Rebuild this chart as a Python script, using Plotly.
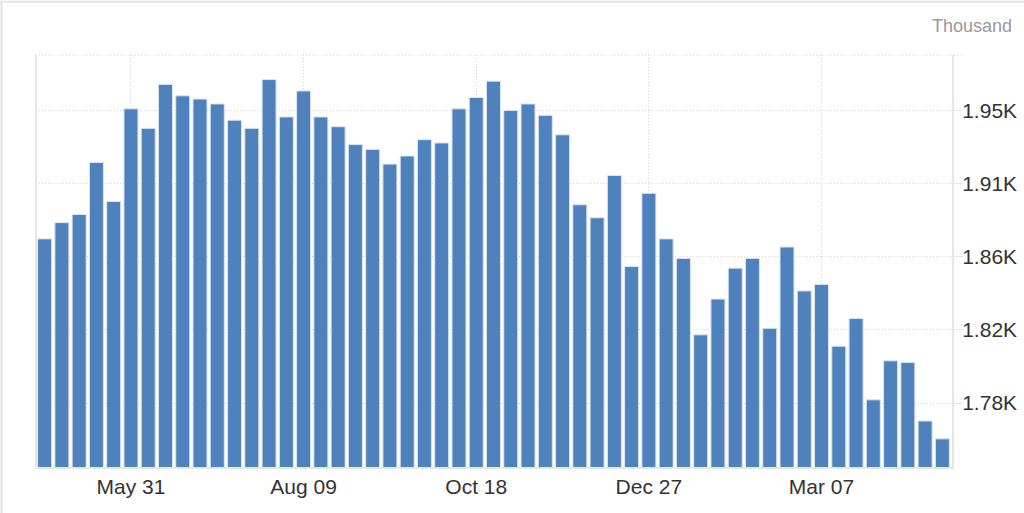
import pandas as pd
import plotly.graph_objects as go

# weekly continuing claims, thousands
weeks = pd.date_range("2025-04-26", periods=53, freq="7D")
claims = [
    1876, 1886, 1891, 1923, 1899, 1956, 1944, 1971, 1964, 1962,
    1959, 1949, 1944, 1974, 1951, 1967, 1951, 1945, 1934, 1931,
    1922, 1927, 1937, 1935, 1956, 1963, 1973, 1955, 1959, 1952,
    1940, 1897, 1889, 1915, 1859, 1904, 1876, 1864, 1817, 1839,
    1858, 1864, 1821, 1871, 1844, 1848, 1810, 1827, 1777, 1801,
    1800, 1764, 1753,
]

x_ticks = ["2025-05-31", "2025-08-09", "2025-10-18", "2025-12-27", "2026-03-07"]
y_ticks = [1775, 1820, 1865, 1910, 1955]
y_labels = ["1.78K", "1.82K", "1.86K", "1.91K", "1.95K"]

fig = go.Figure()
fig.add_trace(go.Bar(
    x=weeks,
    y=claims,
    marker=dict(color="#4f81bd", line=dict(color="#dbe4f0", width=1)),
    hoverinfo="x+y",
))

grid = "#d6d6d6"
dots = "1px,2px"
fig.update_layout(
    width=1024,
    height=513,
    margin=dict(l=36, r=72, t=55, b=46),
    paper_bgcolor="white",
    plot_bgcolor="white",
    bargap=0.19,
    showlegend=False,
    font=dict(family="Liberation Sans, Arial, sans-serif", size=21, color="#333333"),
    xaxis=dict(
        type="date",
        range=[weeks[0] - pd.Timedelta(days=3.5), weeks[-1] + pd.Timedelta(days=3.9)],
        tickvals=x_ticks,
        tickformat="%b %d",
        showgrid=True,
        gridcolor=grid,
        griddash=dots,
        showline=True,
        linecolor="#e6e6e6",
        linewidth=2,
        ticks="",
        zeroline=False,
        automargin=False,
    ),
    yaxis=dict(
        side="right",
        range=[1735.7, 1989.1],
        tickvals=y_ticks,
        ticktext=y_labels,
        showgrid=True,
        gridcolor=grid,
        griddash=dots,
        showline=True,
        linecolor="#e6e6e6",
        linewidth=2,
        ticks="outside",
        ticklen=9,
        tickcolor="#e6e6e6",
        ticklabelstandoff=-5,
        zeroline=False,
        automargin=False,
    ),
)

# dotted line along the top of the plot and left border
fig.add_shape(type="line", xref="paper", yref="paper", x0=0, x1=1.013, y0=1, y1=1,
              line=dict(color=grid, width=1, dash=dots))
fig.add_shape(type="line", xref="paper", yref="paper", x0=0, x1=0, y0=0, y1=1,
              line=dict(color="#e6e6e6", width=2))
# outer frame (top and left)
fig.add_shape(type="line", xref="paper", yref="paper", x0=-0.04, x1=1.08, y0=1.129, y1=1.129,
              line=dict(color="#e3e3e3", width=2))
fig.add_shape(type="line", xref="paper", yref="paper", x0=-0.0376, x1=-0.0376, y0=-0.12, y1=1.13,
              line=dict(color="#e3e3e3", width=2))

fig.add_annotation(
    text="Thousand", xref="paper", yref="paper", x=1.068, y=1.07,
    xanchor="right", yanchor="middle", showarrow=False,
    font=dict(size=18, color="#999999"),
)

fig.write_html("out.html", config={"displayModeBar": False},
               post_script="document.body.style.margin='0px';")
